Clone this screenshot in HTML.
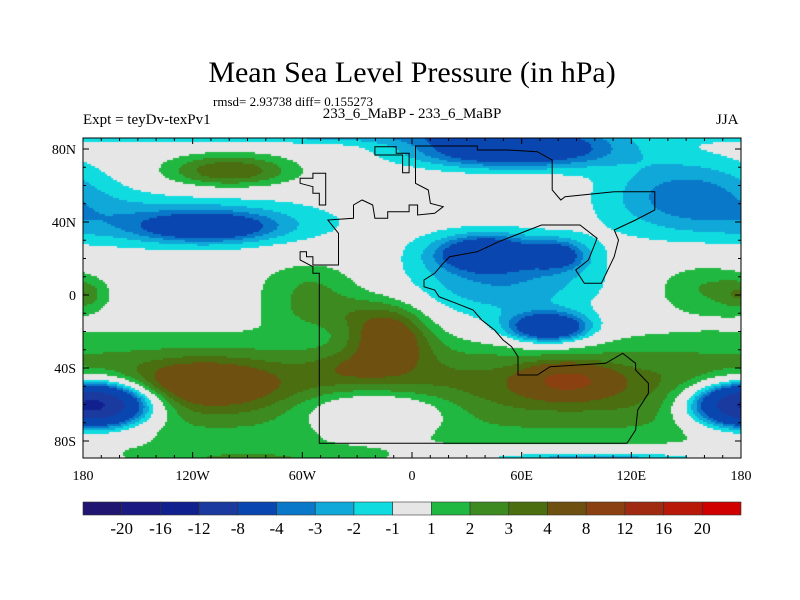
<!DOCTYPE html>
<html><head><meta charset="utf-8"><style>
body{margin:0;background:#fff;width:800px;height:600px;overflow:hidden;font-family:"Liberation Serif",serif}
#wrap{position:relative;width:800px;height:600px}
.t{position:absolute;white-space:nowrap;color:#000}
canvas{position:absolute;left:83px;top:138px}
svg{position:absolute;left:0;top:0}
</style></head><body>
<div id="wrap">
<div class="t" style="left:0;width:824px;text-align:center;top:56px;font-size:30px">Mean Sea Level Pressure (in hPa)</div>
<div class="t" style="left:213px;top:94px;font-size:13px">rmsd= 2.93738 diff= 0.155273</div>
<div class="t" style="left:83px;top:112px;font-size:15px">Expt = teyDv-texPv1</div>
<div class="t" style="left:0;width:824px;text-align:center;top:106px;font-size:15px">233_6_MaBP - 233_6_MaBP</div>
<div class="t" style="left:716px;top:112px;font-size:15px">JJA</div>
<canvas id="map" width="658" height="320"></canvas>
<svg id="ov" width="800" height="600"></svg>
</div>
<script>
const levels=[-20,-16,-12,-8,-4,-3,-2,-1,1,2,3,4,8,12,16,20];
const colors=["#201570","#1a1a82","#10218f","#1a3aa0","#0a46b0","#0a78c8","#10a8d8","#10dce0","#e6e6e6","#20b840","#3c8a20","#4a6e10","#6e5010","#8a4010","#a02a10","#b81808","#d00000"];
const lonTicks=[-180,-120,-60,0,60,120,180];
const lonLabels=["180","120W","60W","0","60E","120E","180"];
const latTicks=[80,40,0,-40,-80];
const latLabels=["80N","40N","0","40S","80S"];
// anomaly blobs: lon, lat, amplitude, lon-width, lat-width
const blobLon=[-100,-112,-120,-60,55,150,40,80,75,50,0,-114,-12,85,-35,-175,-20,100,-55,-45,-180,160,-90];
const blobLat=[68,37,40,88,80,55,23,22,-18,8,-52,-48,-22,-47,-40,-60,-63,-92,5,-10,0,4,-90];
const blobAmp=[4,-4.5,-3,-2.5,-7,-3.5,-6,-4,-7.5,-3,3.5,3.2,4.5,6.5,1,-16,-3.9,-4,2,1.5,1.8,2,1.6];
const blobSx=[35,32,75,150,55,45,25,15,22,55,1000,35,22,22,20,30,42,70,30,30,12,30,80];
const blobSy=[9,7,14,5,10,20,9,8,8,24,28,12,18,8,8,12,12,6,15,10,8,14,6];

const X0=83,X1=741,Y0=138,Y1=458;
const xOf=lon=>X0+(lon+180)/360*(X1-X0);
const yOf=lat=>295-lat*1.825;
const lonOf=x=>(x-X0)/(X1-X0)*360-180;
const latOf=y=>(295-y)/1.825;
function field(lon,lat){let v=0;for(let i=0;i<blobLon.length;i++){let d=lon-blobLon[i];d=((d+540)%360)-180;const e=(d/blobSx[i])**2+((lat-blobLat[i])/blobSy[i])**2;if(e<20)v+=blobAmp[i]*Math.exp(-e);}return v;}
function colorOf(v){let k=0;while(k<levels.length&&v>=levels[k])k++;return colors[k];}
const ctx=document.getElementById('map').getContext('2d');
for(let py=0;py<320;py+=2)for(let px=0;px<658;px+=2){ctx.fillStyle=colorOf(field(lonOf(X0+px+1),latOf(Y0+py+1)));ctx.fillRect(px,py,2,2);}
const NS="http://www.w3.org/2000/svg",svg=document.getElementById('ov');
function mk(tag,at,txt){const e=document.createElementNS(NS,tag);for(const k in at)e.setAttribute(k,at[k]);if(txt!==undefined)e.textContent=txt;svg.appendChild(e);return e;}
const coast=[[560,940],[560,430],[545,430],[545,410],[515,390],[515,365],[530,365],[530,380],[545,380],[545,405],[605,405],[605,310],[580,270],[640,265],[640,225],[660,210],[685,225],[690,265],[720,265],[720,245],[770,245],[770,225],[790,225],[790,255],[830,250],[850,230],[820,220],[815,180],[785,160],[785,48],[930,48],[930,60],[1000,60],[1070,65],[1105,90],[1105,180],[1125,210],[1135,200],[1250,185],[1345,185],[1345,240],[1300,270],[1250,300],[1260,330],[1250,380],[1220,460],[1180,460],[1160,420],[1190,390],[1210,325],[1170,285],[1080,285],[1020,315],[980,335],[930,365],[865,380],[850,400],[830,430],[805,450],[805,470],[830,480],[840,500],[880,520],[920,540],[940,570],[970,600],[990,630],[1010,650],[1025,680],[1025,735],[1070,735],[1100,710],[1230,700],[1270,670],[1300,700],[1300,720],[1330,760],[1330,790],[1305,840],[1300,900],[1280,940]];
const isl1=[[690,50],[740,50],[740,70],[770,70],[770,128],[755,128],[755,75],[690,75]];
const isl2=[[545,130],[575,130],[575,225],[560,225],[560,190],[545,190],[545,170],[515,160],[515,145],[545,145]];
[[coast,'coastline-main'],[isl1,'coastline-greenland'],[isl2,'coastline-island']].forEach(([pts,n])=>{
 const p=mk('polygon',{points:pts.map(q=>(80+q[0]/2.34).toFixed(1)+','+(130+q[1]/3).toFixed(1)).join(' '),fill:'none',stroke:'#000','stroke-width':1});
 
 
});
const fr=mk('rect',{x:X0,y:Y0,width:X1-X0,height:Y1-Y0,fill:'none',stroke:'#000','stroke-width':1});


for(let lon=-180;lon<=180;lon+=10){const x=xOf(lon);mk('line',{x1:x,x2:x,y1:Y1,y2:Y1-(lon%60?3:6),stroke:'#000'});mk('line',{x1:x,x2:x,y1:Y0,y2:Y0+(lon%60?3:6),stroke:'#000'});}
for(let lat=-80;lat<=80;lat+=10){const y=yOf(lat);mk('line',{x1:X0,x2:X0+(lat%40?3:6),y1:y,y2:y,stroke:'#000'});mk('line',{x1:X1,x2:X1-(lat%40?3:6),y1:y,y2:y,stroke:'#000'});}
lonTicks.forEach((v,i)=>{const t=mk('text',{x:xOf(v),y:480,'text-anchor':'middle','font-size':14,'font-family':'Liberation Serif, serif'},lonLabels[i]);
 
 });
latTicks.forEach((v,i)=>{const t=mk('text',{x:76,y:yOf(v)+5,'text-anchor':'end','font-size':14,'font-family':'Liberation Serif, serif'},latLabels[i]);
 
 });
const cbW=(X1-X0)/colors.length;
colors.forEach((c,i)=>{const r=mk('rect',{x:X0+i*cbW,y:502,width:cbW,height:13,fill:c,stroke:'#333','stroke-width':0.6});
 
 });
levels.forEach((v,i)=>{const t=mk('text',{x:X0+(i+1)*cbW,y:534,'text-anchor':'middle','font-size':17,'font-family':'Liberation Serif, serif'},String(v));
 
 });
</script>
</body></html>
